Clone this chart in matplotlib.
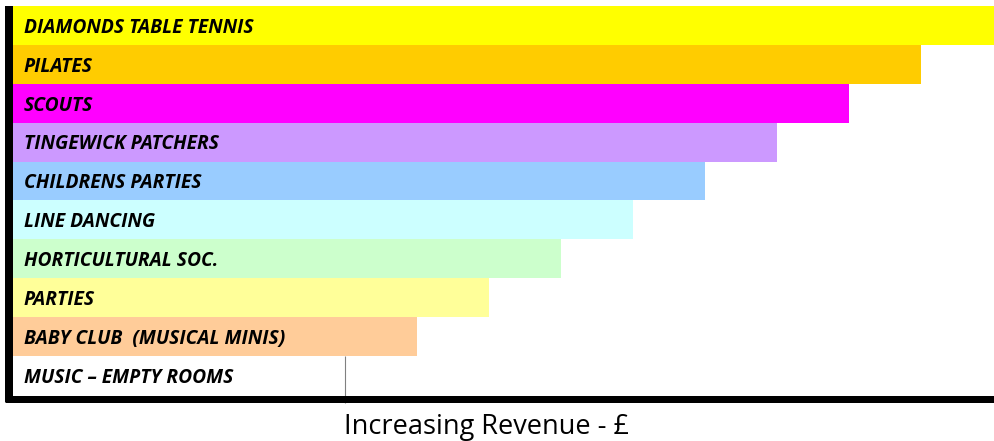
import matplotlib
matplotlib.use('Agg')
import matplotlib.pyplot as plt
from matplotlib.lines import Line2D

# activities, top to bottom
activities = ['DIAMONDS TABLE TENNIS', 'PILATES', 'SCOUTS', 'TINGEWICK PATCHERS',
              'CHILDRENS PARTIES', 'LINE DANCING', 'HORTICULTURAL SOC.', 'PARTIES',
              'BABY CLUB  (MUSICAL MINIS)', 'MUSIC \u2013 EMPTY ROOMS']
# relative revenue (arbitrary units)
revenue = [981, 908, 836, 764, 692, 620, 548, 476, 404, 332]
colours = ['#FFFF00', '#FFCC00', '#FF00FF', '#CC99FF', '#99CCFF',
           '#CCFFFF', '#CCFFCC', '#FFFF99', '#FFCC99', '#FFFFFF']

W, H = 994, 441
fig = plt.figure(figsize=(W / 100, H / 100), dpi=100)
ax = fig.add_axes([13 / W, 46 / H, 981 / W, 389 / H])

ypos = list(range(len(activities)))
ax.barh(ypos, revenue, height=1.0, color=colours, edgecolor='none')
ax.set_ylim(len(activities) - 0.5, -0.5)
ax.set_xlim(0, 981)

for y, name in zip(ypos, activities):
    ax.text(11, y + 0.06, name, va='center', ha='left', fontsize=13.9,
            fontweight='bold', fontstyle='italic', family='Open Sans')

# thin grey marker at the end of the white bar
ax.vlines(revenue[-1], len(activities) - 1.5, len(activities) - 0.3,
          color='#808080', lw=0.8, clip_on=False)

for side in ax.spines:
    ax.spines[side].set_visible(False)
ax.set_xticks([])
ax.set_yticks([])

# heavy axis lines (pixel positions of the frame)
fig.add_artist(Line2D([9 / W, 9 / W], [(H - 6) / H, (H - 402) / H],
                      color='black', lw=8 * 0.72, solid_capstyle='butt'))
fig.add_artist(Line2D([5 / W, 1.0], [(H - 398.5) / H, (H - 398.5) / H],
                      color='black', lw=7 * 0.72, solid_capstyle='butt'))

fig.text(487 / W, 14 / H, 'Increasing Revenue - \u00a3', ha='center', va='center',
         fontsize=19.5, family='Open Sans')

fig.savefig('out.png', dpi=100)
